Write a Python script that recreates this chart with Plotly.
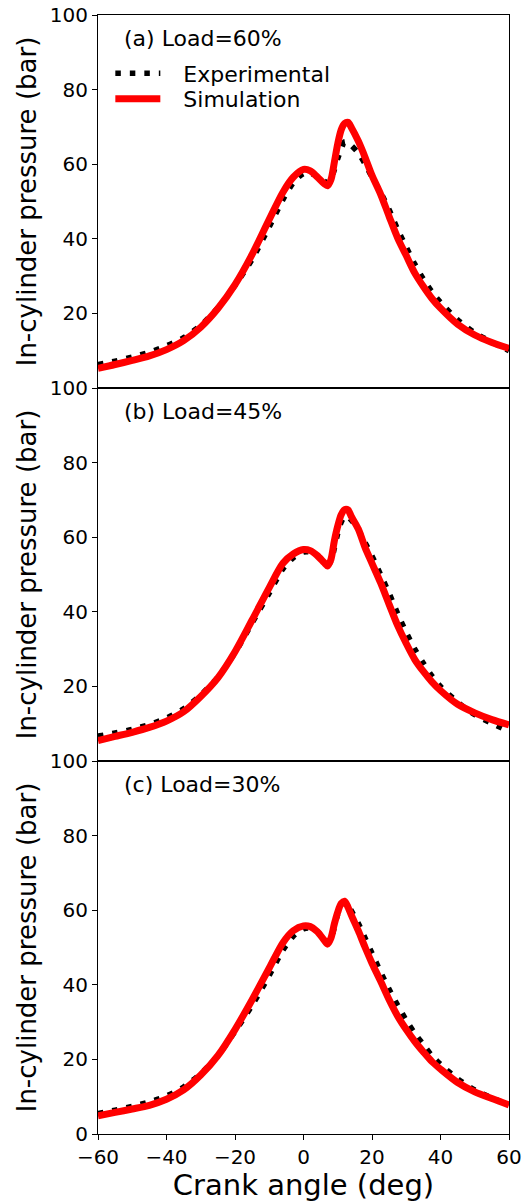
import plotly.graph_objects as go
from plotly.subplots import make_subplots

# Crank angle grid (deg)
angle = [-60, -55, -50, -45, -40, -35, -30, -25, -20, -15, -10, -6, -3, 0, 2, 4, 6, 7, 8, 9,
         10, 11, 12, 13, 14, 16, 18, 20, 22.5, 25, 27.5, 30, 32.5, 35, 37.5, 40, 45, 50, 55, 60]

# (a) Load = 60 %
exp_60 = [6.3, 7.2, 8.3, 9.6, 11.3, 13.5, 16.8, 21.5, 27.5, 34.5, 43.2, 50.5, 55.0, 57.5, 57.6, 56.8, 55.5, 55.0, 56.0, 58.5,
          61.5, 64.0, 66.0, 65.8, 65.0, 63.0, 60.0, 56.5, 52.5, 47.8, 42.5, 37.8, 33.2, 29.2, 25.8, 23.0, 18.3, 14.8, 12.3, 10.0]
sim_60 = [5.3, 6.3, 7.4, 8.6, 10.3, 12.7, 16.3, 21.3, 27.7, 35.8, 45.2, 52.5, 56.5, 58.6, 58.2, 56.6, 54.8, 54.2, 55.8, 60.5,
          65.5, 69.2, 70.9, 71.2, 69.8, 66.2, 61.8, 57.0, 52.0, 46.0, 40.2, 35.5, 30.8, 27.2, 24.0, 21.4, 17.1, 14.2, 12.2, 10.6]

# (b) Load = 45 %
exp_45 = [6.7, 7.5, 8.5, 9.8, 11.5, 14.0, 17.7, 22.5, 29.0, 37.0, 45.0, 51.5, 54.5, 56.0, 56.0, 55.0, 53.3, 52.5, 53.5, 57.0,
          61.0, 64.0, 65.5, 65.3, 64.5, 62.0, 58.5, 55.0, 50.0, 45.0, 39.5, 34.5, 30.0, 26.2, 22.8, 20.0, 15.8, 12.4, 10.1, 8.0]
sim_45 = [5.5, 6.6, 7.7, 9.0, 10.7, 13.2, 17.3, 22.3, 29.3, 37.8, 46.5, 53.0, 55.5, 56.7, 56.4, 55.1, 53.2, 52.3, 54.0, 59.0,
          63.0, 66.0, 67.4, 67.3, 65.5, 62.2, 57.2, 53.0, 47.8, 42.0, 36.3, 31.5, 27.2, 24.0, 21.2, 18.9, 15.2, 12.9, 11.1, 9.7]

# (c) Load = 30 %
exp_30 = [5.5, 6.4, 7.4, 8.6, 10.2, 12.6, 16.2, 21.0, 27.5, 34.5, 42.5, 49.3, 53.0, 55.0, 55.2, 54.3, 52.2, 51.0, 52.0, 55.5,
          59.0, 61.5, 62.0, 61.3, 59.8, 56.5, 52.5, 48.5, 43.5, 38.8, 34.5, 30.5, 27.0, 24.0, 21.0, 18.7, 14.8, 11.8, 9.7, 7.7]
sim_30 = [4.9, 5.8, 6.7, 7.7, 9.3, 11.8, 15.8, 21.0, 28.0, 36.0, 44.5, 51.3, 54.5, 55.8, 55.6, 54.3, 52.0, 50.9, 52.5, 56.3,
          59.5, 61.8, 62.4, 60.8, 58.6, 54.5, 50.0, 45.8, 41.0, 36.0, 31.6, 28.0, 24.8, 22.0, 19.4, 17.4, 13.8, 11.3, 9.5, 7.8]

panel_labels = ["(a) Load=60%", "(b) Load=45%", "(c) Load=30%"]
series_names = ["Experimental", "Simulation"]
exp_series = [exp_60, exp_45, exp_30]
sim_series = [sim_60, sim_45, sim_30]
x_ticks = [-60, -40, -20, 0, 20, 40, 60]
y_ticks_full = [0, 20, 40, 60, 80, 100]
y_ticks_upper = [20, 40, 60, 80, 100]

FONT = "DejaVu Sans"
GAP = "\u2002\u00a0"

fig = make_subplots(rows=3, cols=1, shared_xaxes=True, vertical_spacing=0)

for i in range(3):
    row = i + 1
    fig.add_trace(go.Scatter(
        x=angle, y=exp_series[i], mode="lines", name=GAP + series_names[0],
        line=dict(color="black", width=5.5, dash="5.5px,9px", shape="spline", smoothing=0.8),
        showlegend=(i == 0), legend="legend"), row=row, col=1)
    fig.add_trace(go.Scatter(
        x=angle, y=sim_series[i], mode="lines", name=GAP + series_names[1],
        line=dict(color="#ff0000", width=7, shape="spline", smoothing=0.8),
        showlegend=(i == 0), legend="legend2"), row=row, col=1)

axis_common = dict(showline=True, linecolor="black", linewidth=1, mirror=True,
                   ticks="outside", ticklen=5, tickwidth=1, tickcolor="black",
                   showgrid=False, zeroline=False, automargin=False,
                   tickfont=dict(family=FONT, size=20, color="black"))

for i in range(3):
    row = i + 1
    fig.update_yaxes(range=[0, 100],
                     tickvals=(y_ticks_full if row == 3 else y_ticks_upper),
                     title=dict(text="In-cylinder pressure (bar)",
                                font=dict(family=FONT, size=26, color="black"), standoff=5),
                     row=row, col=1, **axis_common)
    fig.update_xaxes(range=[-60, 60], tickvals=x_ticks, row=row, col=1, **axis_common)
    if row < 3:
        fig.update_xaxes(showticklabels=False, ticks="", row=row, col=1)
    else:
        fig.update_xaxes(title=dict(text="Crank angle (deg)",
                                    font=dict(family=FONT, size=29, color="black"), standoff=4),
                         row=row, col=1)
    yref = "y domain" if row == 1 else f"y{row} domain"
    xref = "x domain" if row == 1 else f"x{row} domain"
    fig.add_annotation(text=panel_labels[i], xref=xref, yref=yref, x=0.058, y=0.938,
                       xanchor="left", yanchor="middle", showarrow=False,
                       font=dict(family=FONT, size=22, color="black"))

legend_common = dict(xanchor="left", yanchor="middle", bgcolor="rgba(0,0,0,0)", borderwidth=0,
                     font=dict(family=FONT, size=22, color="black"), itemwidth=45)

fig.update_layout(
    width=523, height=1202,
    margin=dict(l=98, r=14, t=15, b=68, pad=0),
    paper_bgcolor="white", plot_bgcolor="white",
    font=dict(family=FONT, color="black"),
    legend=dict(x=0.03, y=(1134 - 73.5) / 1119, **legend_common),
    legend2=dict(x=0.03, y=(1134 - 99) / 1119, **legend_common),
)

fig.write_html("out.html", config={"displayModeBar": False},
               post_script="document.body.style.margin='0';document.body.style.padding='0';"
                           "document.body.style.overflow='hidden';")
